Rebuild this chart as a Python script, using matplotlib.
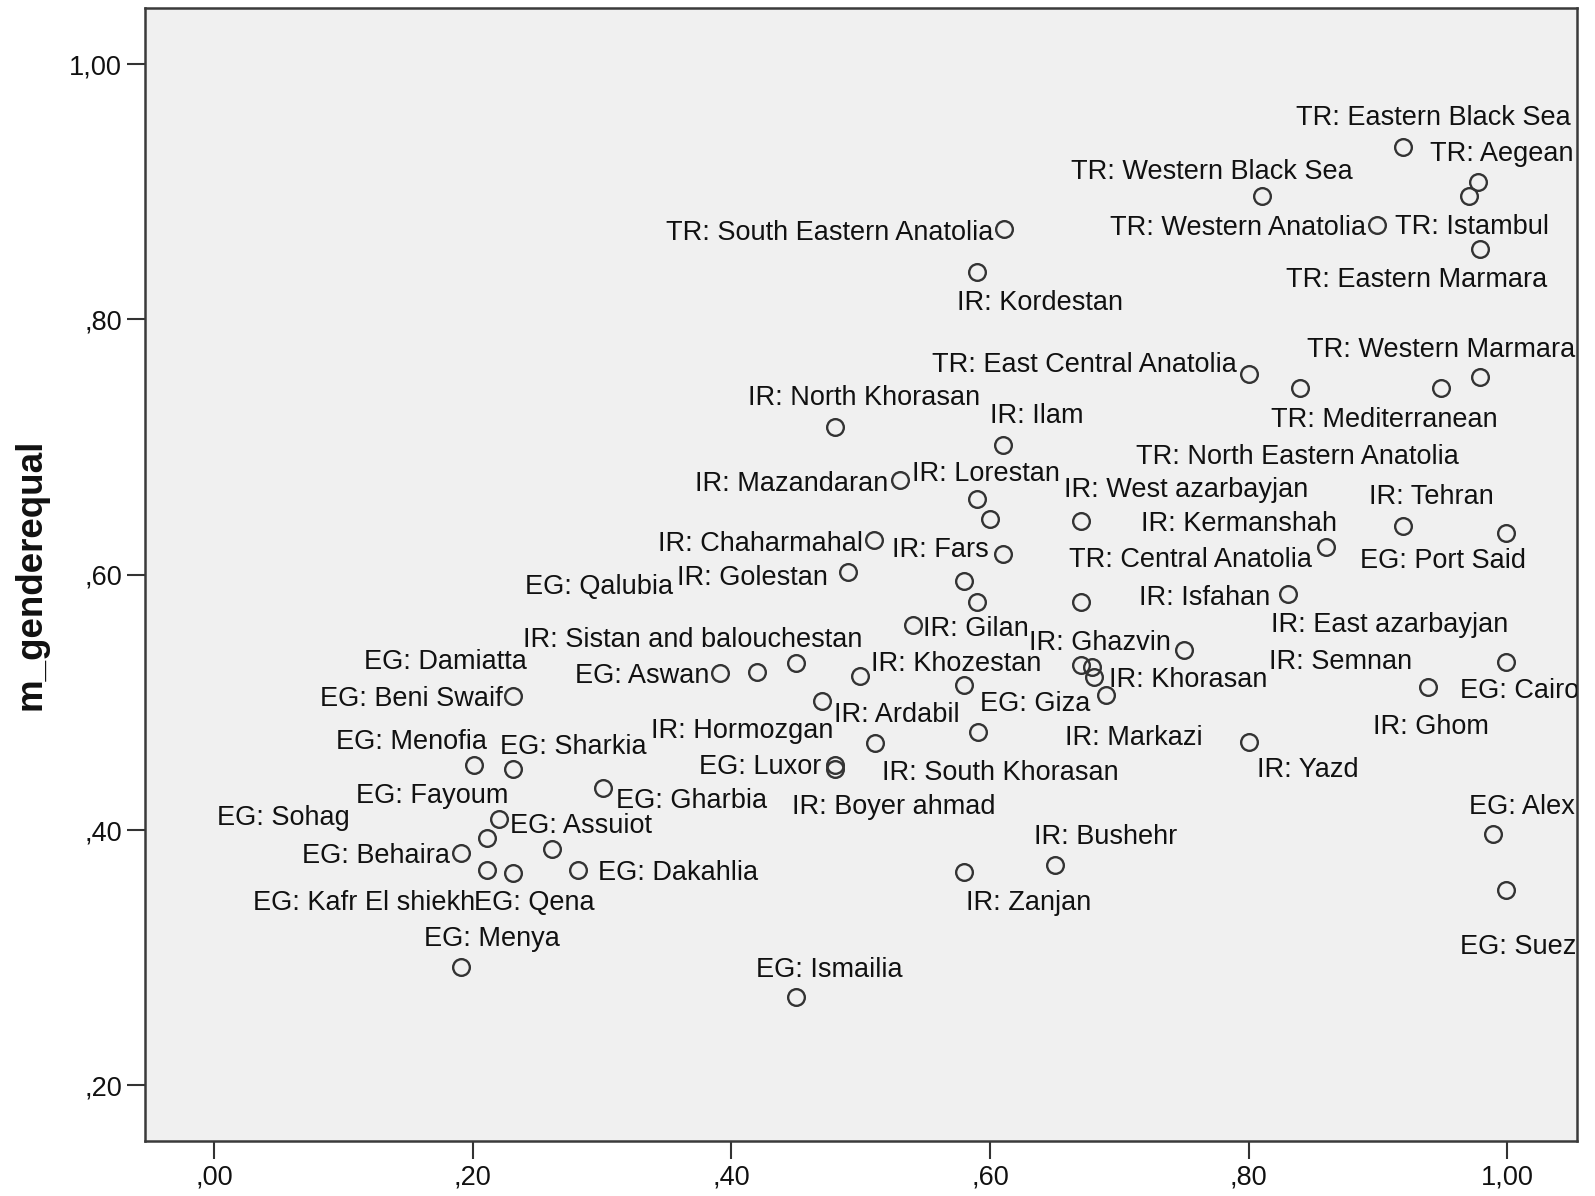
import matplotlib
matplotlib.use('Agg')
import matplotlib.pyplot as plt
from matplotlib import transforms
from matplotlib.ticker import FixedLocator, FuncFormatter

plt.rcParams['font.family'] = ['Liberation Sans', 'DejaVu Sans']

# regions (name, x value, m_genderequal)
names = ['TR: Eastern Black Sea', 'TR: Aegean', 'TR: Istambul', 'TR: Western Black Sea',
         'TR: Western Anatolia', 'TR: South Eastern Anatolia', 'TR: Eastern Marmara', 'IR: Kordestan',
         'TR: East Central Anatolia', 'TR: North Eastern Anatolia', 'TR: Mediterranean', 'TR: Western Marmara',
         'IR: North Khorasan', 'IR: Ilam', 'IR: Mazandaran', 'IR: Lorestan',
         '', 'IR: West azarbayjan', 'IR: Tehran', 'EG: Port Said',
         'IR: Chaharmahal', 'IR: Fars', 'IR: Kermanshah', 'IR: Golestan',
         'EG: Qalubia', '', 'TR: Central Anatolia', 'IR: Isfahan',
         'IR: Gilan', 'IR: Semnan', 'EG: Cairo', 'EG: Aswan',
         'EG: Damiatta', 'IR: Sistan and balouchestan', 'IR: Khozestan', 'IR: Ghazvin',
         'IR: East azarbayjan', 'IR: Ardabil', 'EG: Giza', 'IR: Ghom',
         'EG: Beni Swaif', 'IR: Hormozgan', 'IR: Khorasan', 'IR: Markazi',
         'IR: Yazd', 'IR: South Khorasan', 'EG: Menofia', 'EG: Sharkia',
         'EG: Luxor', 'IR: Boyer ahmad', 'EG: Gharbia', 'EG: Fayoum',
         'EG: Sohag', 'EG: Behaira', 'EG: Kafr El shiekh', 'EG: Qena',
         'EG: Assuiot', 'EG: Dakahlia', 'EG: Alex', 'IR: Bushehr',
         'IR: Zanjan', 'EG: Suez', 'EG: Menya', 'EG: Ismailia']

xval = [0.919, 0.977, 0.970, 0.810, 0.899, 0.611, 0.979, 0.590,
        0.800, 0.840, 0.949, 0.979, 0.480, 0.610, 0.530, 0.590,
        0.600, 0.670, 0.919, 0.999, 0.510, 0.610, 0.860, 0.490,
        0.580, 0.590, 0.670, 0.830, 0.540, 0.750, 0.999, 0.391,
        0.420, 0.450, 0.499, 0.670, 0.679, 0.680, 0.580, 0.939,
        0.231, 0.470, 0.690, 0.591, 0.800, 0.511, 0.201, 0.231,
        0.480, 0.480, 0.301, 0.220, 0.211, 0.191, 0.211, 0.231,
        0.261, 0.281, 0.989, 0.650, 0.580, 0.999, 0.191, 0.450]

m_genderequal = [0.935, 0.908, 0.897, 0.897, 0.874, 0.871, 0.855, 0.837,
                 0.757, 0.746, 0.746, 0.755, 0.716, 0.702, 0.674, 0.659,
                 0.644, 0.642, 0.638, 0.633, 0.627, 0.616, 0.622, 0.602,
                 0.595, 0.579, 0.579, 0.585, 0.561, 0.541, 0.532, 0.523,
                 0.524, 0.531, 0.521, 0.529, 0.528, 0.520, 0.514, 0.512,
                 0.505, 0.501, 0.506, 0.477, 0.469, 0.468, 0.451, 0.448,
                 0.451, 0.448, 0.433, 0.409, 0.394, 0.382, 0.369, 0.366,
                 0.385, 0.369, 0.397, 0.373, 0.367, 0.353, 0.293, 0.269]

yticks = [0.2, 0.4, 0.6, 0.8, 1.0]
xticks = [0.0, 0.2, 0.4, 0.6, 0.8, 1.0]

# where each label sits relative to its point (pixels, dy up), and its alignment
label_offsets = [(-105, 22, 'left'), (-47, 20, 'left'), (-72, -38, 'left'), (-187, 16, 'left'),
                 (-10, -10, 'right'), (-11, -11, 'right'), (-191, -37, 'left'), (-20, -37, 'left'),
                 (-12, 2, 'right'), (-162, -74, 'left'), (-168, -38, 'left'), (-170, 20, 'left'),
                 (-85, 21, 'left'), (-13, 21, 'left'), (-11, -11, 'right'), (-64, 18, 'left'),
                 None, (-16, 24, 'left'), (-33, 22, 'left'), (-144, -35, 'left'),
                 (-11, -11, 'right'), (-14, -3, 'right'), (-182, 15, 'left'), (-20, -13, 'right'),
                 (-286, -13, 'right'), None, (-11, 34, 'left'), (-17, -11, 'right'),
                 (10, -11, 'left'), (83, -19, 'left'), (-45, -36, 'left'), (-10, -10, 'right'),
                 (-387, 3, 'left'), (-269, 16, 'left'), (11, 5, 'left'), (89, 15, 'right'),
                 (176, 34, 'left'), (-255, -44, 'left'), (15, -26, 'left'), (-55, -46, 'left'),
                 (-10, -10, 'right'), (11, -36, 'right'), (2, 8, 'left'), (85, -13, 'left'),
                 (8, -34, 'left'), (7, -36, 'left'), (-136, 16, 'left'), (-13, 15, 'left'),
                 (-13, -9, 'right'), (-42, -44, 'left'), (12, -20, 'left'), (-140, 15, 'left'),
                 (-266, 13, 'left'), (-11, -10, 'right'), (-230, -40, 'left'), (-38, -36, 'left'),
                 (-41, 16, 'left'), (20, -10, 'left'), (-24, 20, 'left'), (-20, 20, 'left'),
                 (2, -37, 'left'), (-45, -63, 'left'), (-37, 20, 'left'), (-39, 20, 'left')]

fig = plt.figure(figsize=(15.95, 11.96), dpi=100)
ax = fig.add_axes([0.0912, 0.0457, 0.8973, 0.9475])
ax.set_facecolor('#f0f0f0')

ax.plot(xval, m_genderequal, linestyle='none', marker='o', markersize=12,
        markerfacecolor='none', markeredgecolor='#333333', markeredgewidth=1.7)

sc = 1595 / 1568  # offsets were measured on the shrunk picture
for name, x, y, off in zip(names, xval, m_genderequal, label_offsets):
    if off is None or not name:
        continue
    dx, dy, ha = off
    tr = transforms.offset_copy(ax.transData, fig=fig, x=dx * sc, y=dy * sc, units='dots')
    ax.text(x, y, name, transform=tr, ha=ha, va='baseline', fontsize=19.5,
            color='#111111', clip_on=True)

ax.set_xlim(-0.0532, 1.0536)
ax.set_ylim(0.1562, 1.0438)

def comma_fmt(v, pos):
    s = f"{v:.2f}".replace('.', ',')
    if s.startswith('0'):
        s = s[1:]
    return s

ax.xaxis.set_major_locator(FixedLocator(xticks))
ax.yaxis.set_major_locator(FixedLocator(yticks))
ax.xaxis.set_major_formatter(FuncFormatter(comma_fmt))
ax.yaxis.set_major_formatter(FuncFormatter(comma_fmt))
ax.tick_params(direction='out', length=13, width=1.5, color='#333333',
               labelsize=19.5, pad=4, labelcolor='#111111')

for sp in ax.spines.values():
    sp.set_color('#3a3a3a')
    sp.set_linewidth(1.8)

ax.set_ylabel('m_genderequal', fontsize=26.5, fontweight='bold', color='#111111')
ax.yaxis.set_label_coords(-0.0675, 0.5)

fig.savefig('out.png', dpi=100, facecolor='white')
